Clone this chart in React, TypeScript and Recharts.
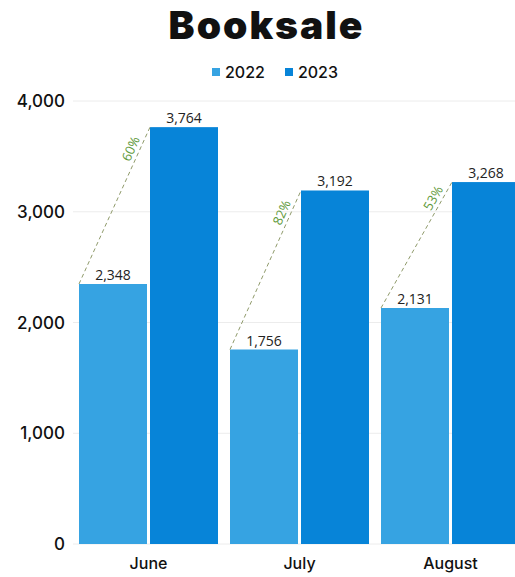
import { BarChart, Bar, XAxis, YAxis, CartesianGrid, LabelList } from 'recharts'

const months = ['June', 'July', 'August']
const sales2022 = [2348, 1756, 2131]
const sales2023 = [3764, 3192, 3268]
const yTicks = [0, 1000, 2000, 3000, 4000]

const COLOR_2022 = '#36a3e2'
const COLOR_2023 = '#0784d8'
const BAR_GAP = 3

const data = months.map((m, i) => ({ month: m, y2022: sales2022[i], y2023: sales2023[i] }))

const fmt = (v: number) => v.toLocaleString('en-US')

// 2023 bar plus the dashed growth line from the 2022 bar top
function GrowthBar(props: any) {
  const { x, y, width, height, fill, index } = props
  const base = y + height
  const prev = sales2022[index]
  const cur = sales2023[index]
  const y0 = base - (height * prev) / cur
  const x0 = x - width - BAR_GAP
  const pct = Math.round((cur / prev - 1) * 100)
  const angle = (Math.atan2(y - y0, x - x0) * 180) / Math.PI
  const t = 0.84
  const px = x0 + t * (x - x0)
  const py = y0 + t * (y - y0)
  return (
    <g>
      <rect x={x} y={y} width={width} height={height} fill={fill} />
      <line x1={x0} y1={y0} x2={x} y2={y} stroke="#8f9a6a" strokeWidth={1} strokeDasharray="4 3" />
      <text
        x={px}
        y={py - 4}
        textAnchor="middle"
        fontSize={13}
        fill="#5f9a3c"
        fontFamily="'Open Sans', sans-serif"
        transform={`rotate(${angle}, ${px}, ${py})`}
      >
        {pct}%
      </text>
    </g>
  )
}

function LegendBox() {
  const items = [
    { label: '2022', color: COLOR_2022 },
    { label: '2023', color: COLOR_2023 },
  ]
  return (
    <div
      style={{
        position: 'absolute',
        top: 62,
        left: 212,
        display: 'flex',
        gap: 20,
        fontFamily: 'Inter, sans-serif',
        fontSize: 16,
        fontWeight: 500,
        color: '#111',
      }}
    >
      {items.map(it => (
        <div key={it.label} style={{ display: 'flex', alignItems: 'center', gap: 5 }}>
          <span style={{ width: 8, height: 8, background: it.color, display: 'inline-block' }} />
          <span>{it.label}</span>
        </div>
      ))}
    </div>
  )
}

export default function App() {
  return (
    <div style={{ position: 'fixed', left: 0, top: 0, width: 515, height: 577, overflow: 'hidden', background: '#fff' }}>
      <div
        style={{
          position: 'absolute',
          top: 1,
          left: 0,
          width: 533,
          textAlign: 'center',
          fontFamily: 'Inter, sans-serif',
          fontWeight: 900,
          fontSize: 39,
          color: '#111',
          letterSpacing: 2,
        }}
      >
        Booksale
      </div>
      <LegendBox />
      <BarChart
        width={526}
        height={577}
        data={data}
        margin={{ top: 101, right: 0, bottom: 3, left: 0 }}
        barCategoryGap={6}
        barGap={BAR_GAP}
      >
        <CartesianGrid vertical={false} stroke="#ececec" />
        <XAxis
          dataKey="month"
          axisLine={false}
          tickLine={false}
          tickSize={0}
          tickMargin={14}
          height={30}
          tick={{ fontSize: 16, fill: '#111', fontFamily: 'Inter, sans-serif', fontWeight: 500 }}
        />
        <YAxis
          width={73}
          domain={[0, 4000]}
          ticks={yTicks}
          tickFormatter={fmt}
          axisLine={false}
          tickLine={false}
          tickSize={0}
          tickMargin={8}
          tick={{ fontSize: 17, fill: '#111', fontFamily: 'Inter, sans-serif', fontWeight: 500 }}
        />
        <Bar dataKey="y2022" fill={COLOR_2022} isAnimationActive={false}>
          <LabelList
            dataKey="y2022"
            position="top"
            offset={4}
            formatter={(v: any) => fmt(Number(v))}
            style={{ fontSize: 14, fill: '#222', fontFamily: "'Open Sans', sans-serif" }}
          />
        </Bar>
        <Bar dataKey="y2023" fill={COLOR_2023} isAnimationActive={false} shape={(p: any) => <GrowthBar {...p} />}>
          <LabelList
            dataKey="y2023"
            position="top"
            offset={4}
            formatter={(v: any) => fmt(Number(v))}
            style={{ fontSize: 14, fill: '#222', fontFamily: "'Open Sans', sans-serif" }}
          />
        </Bar>
      </BarChart>
    </div>
  )
}
